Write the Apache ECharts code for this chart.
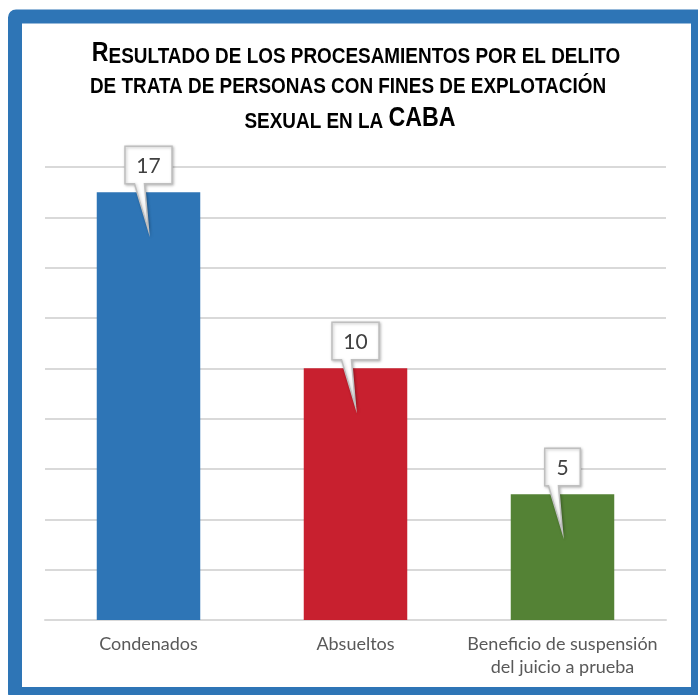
<!DOCTYPE html>
<html>
<head>
<meta charset="utf-8">
<script src="https://cdn.jsdelivr.net/npm/echarts@6/dist/echarts.min.js"></script>
<style>
  html, body { margin: 0; padding: 0; background: #ffffff; }
  #chart { width: 698px; height: 695px; }
</style>
</head>
<body>
<div id="chart"></div>
<script>
// Outcomes of the prosecutions
const categories = ['Condenados', 'Absueltos', 'Beneficio de suspensión\ndel juicio a prueba'];
const values = [17, 10, 5];
const barColors = ['#2E75B6', '#C8202F', '#548235'];
const yMax = 18;
const yStep = 2;

// Title lines, in small caps: {b|...} full-size capitals, {s|...} small capitals
const titleLines = [
  '{b|R}{s|ESULTADO DE LOS PROCESAMIENTOS POR EL DELITO}',
  '{s|DE TRATA DE PERSONAS CON FINES DE EXPLOTACIÓN}',
  '{s|SEXUAL EN LA }{b|CABA}'
];

const chart = echarts.init(document.getElementById('chart'), null, { renderer: 'canvas' });

const titleFont = '"Liberation Sans", Arial, sans-serif';
const titleRich = {
  b: { fontFamily: titleFont, fontWeight: 'bold', fontSize: 27, color: '#000000', verticalAlign: 'bottom' },
  s: { fontFamily: titleFont, fontWeight: 'bold', fontSize: 22, color: '#000000', verticalAlign: 'bottom' }
};
const titleCenters = [356, 348, 350];
const titleY = [54, 87, 119];

// Callout bubble drawn above each bar, with a tail pointing into the bar
function renderCallout(params, api) {
  const idx = api.value(0);
  const val = api.value(1);
  const top = api.coord([idx, val]);
  const label = String(val);
  const w = 24 + 11.5 * label.length;
  const cx = top[0];
  const boxBottom = top[1] - 8.5;
  const boxTop = boxBottom - 37.5;
  const tipY = top[1] + 38;
  const pts = [
    [cx - w / 2, boxTop],
    [cx + w / 2, boxTop],
    [cx + w / 2, boxBottom],
    [cx - 4, boxBottom],
    [cx, tipY],
    [cx - 14, boxBottom],
    [cx - w / 2, boxBottom]
  ];
  return {
    type: 'group',
    children: [
      {
        type: 'polygon',
        shape: { points: pts },
        style: {
          fill: '#ffffff',
          stroke: '#BFBFBF',
          lineWidth: 1.5,
          shadowBlur: 3,
          shadowOffsetX: 1,
          shadowOffsetY: 1,
          shadowColor: 'rgba(0,0,0,0.25)'
        }
      },
      {
        type: 'text',
        style: {
          text: label,
          x: cx,
          y: (boxTop + boxBottom) / 2 + 1,
          align: 'center',
          verticalAlign: 'middle',
          fill: '#404040',
          font: '21px Lato, sans-serif'
        }
      }
    ]
  };
}

const graphics = [
  {
    type: 'rect',
    z: 100,
    shape: { x: 15, y: 16.5, width: 683, height: 677.5, r: 1 },
    style: { fill: 'none', stroke: '#2E75B6', lineWidth: 14 }
  }
];
titleLines.forEach((line, i) => {
  graphics.push({
    type: 'text',
    x: titleCenters[i],
    y: titleY[i],
    scaleX: 0.86,
    style: {
      text: line,
      rich: titleRich,
      align: 'center',
      verticalAlign: 'middle'
    }
  });
});

const option = {
  backgroundColor: '#ffffff',
  animation: false,
  graphic: graphics,
  grid: { left: 45, right: 32, top: 167, bottom: 75 },
  xAxis: {
    type: 'category',
    data: categories,
    axisTick: { show: false },
    axisLine: { lineStyle: { color: '#D9D9D9', width: 2 } },
    axisLabel: {
      interval: 0,
      color: '#595959',
      fontSize: 18,
      lineHeight: 23,
      margin: 13,
      fontFamily: 'Lato, sans-serif'
    }
  },
  yAxis: {
    type: 'value',
    min: 0,
    max: yMax,
    interval: yStep,
    axisLabel: { show: false },
    axisLine: { show: false },
    axisTick: { show: false },
    splitLine: { lineStyle: { color: '#D9D9D9', width: 2 } }
  },
  series: [
    {
      type: 'bar',
      barWidth: '50%',
      data: values.map((v, i) => ({ value: v, itemStyle: { color: barColors[i] } }))
    },
    {
      type: 'custom',
      z: 10,
      renderItem: renderCallout,
      data: values.map((v, i) => [i, v])
    }
  ]
};

chart.setOption(option);
</script>
</body>
</html>
